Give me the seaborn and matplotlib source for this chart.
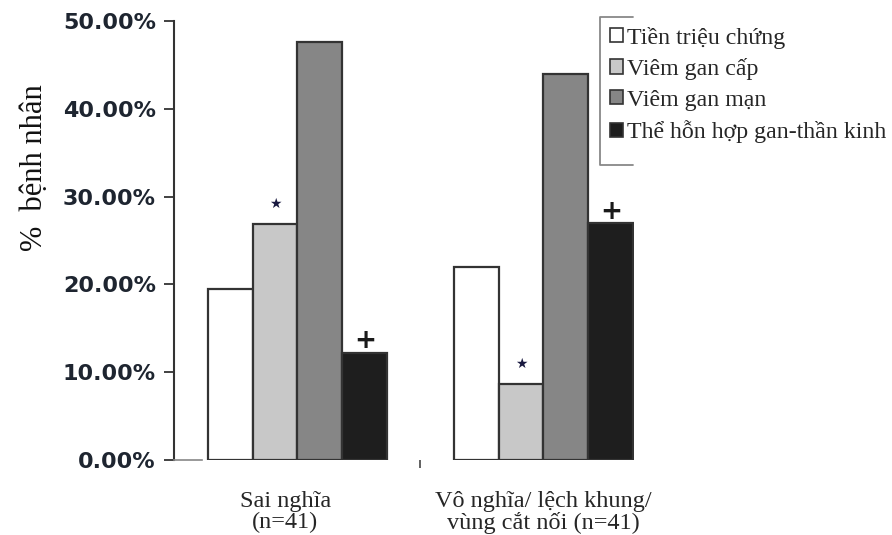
import matplotlib
matplotlib.use('Agg')
import matplotlib.pyplot as plt
import matplotlib.transforms as mtransforms
import pandas as pd
import seaborn as sns
from matplotlib.lines import Line2D
from matplotlib.patches import Patch
from matplotlib.ticker import PercentFormatter

groups = ['Sai nghĩa\n(n=41)', 'Vô nghĩa/ lệch khung/\nvùng cắt nối (n=41)']
types = ['Tiền triệu chứng', 'Viêm gan cấp', 'Viêm gan mạn', 'Thể hỗn hợp gan-thần kinh']
colors = ['#ffffff', '#c8c8c8', '#868686', '#1e1e1e']

# percent of patients, per group, one list per type
tien_trieu_chung = [19.5, 22.0]
viem_gan_cap = [26.9, 8.6]
viem_gan_man = [47.6, 44.0]
the_hon_hop = [12.2, 27.0]

# significance marks drawn above bars
marks = {'Viêm gan cấp': '★', 'Thể hỗn hợp gan-thần kinh': '+'}

values = [tien_trieu_chung, viem_gan_cap, viem_gan_man, the_hon_hop]
rows = []
for t, vals in zip(types, values):
    for g, v in zip(groups, vals):
        rows.append({'group': g, 'type': t, 'value': v})
df = pd.DataFrame(rows)

sns.set_style('white')
serif = ['Liberation Serif', 'DejaVu Serif']

fig = plt.figure(figsize=(8.92, 5.35), dpi=100)
ax = fig.add_axes([174 / 892, 1 - 460 / 535, 460 / 892, 439 / 535])

sns.barplot(data=df, x='group', y='value', hue='type', order=groups, hue_order=types,
            palette=colors, edgecolor='#333333', linewidth=1.6, width=0.73,
            saturation=1, legend=False, ax=ax)

ax.set_xlim(-0.502, 1.368)
ax.set_ylim(0, 50)
ax.set_yticks([0, 10, 20, 30, 40, 50])
ax.yaxis.set_major_formatter(PercentFormatter(decimals=2))

# marks above bars
for t, container in zip(types, ax.containers):
    if t not in marks:
        continue
    for bar in container:
        x = bar.get_x() + bar.get_width() / 2
        h = bar.get_height()
        if marks[t] == '★':
            ax.text(x, h + 2.3, '★', ha='center', va='center', fontsize=10,
                    color='#1a1a40', family='DejaVu Sans')
        else:
            ax.text(x, h + 1.3, '+', ha='center', va='center', fontsize=19,
                    color='#1a1a1a', family='DejaVu Sans', fontweight='bold')

for s in ['top', 'right']:
    ax.spines[s].set_visible(False)
ax.spines['left'].set_color('#333333')
ax.spines['left'].set_linewidth(1.5)
ax.spines['bottom'].set_color('#888888')
ax.spines['bottom'].set_linewidth(1.2)
ax.spines['bottom'].set_bounds(-0.502, -0.39)

ax.tick_params(axis='y', direction='out', length=7, width=1.3, color='#333333',
               pad=6, labelsize=16, labelcolor='#1e2530', left=True)
for lab in ax.get_yticklabels():
    lab.set_family('DejaVu Sans')
    lab.set_fontweight('bold')

ax.tick_params(axis='x', which='major', length=0, pad=22)
ax.set_xticks(range(len(groups)))
ax.set_xticklabels(groups, fontsize=17.5, family=serif, linespacing=1.0)
# first group label sits a little left of its bars
first = ax.get_xticklabels()[0]
first.set_transform(first.get_transform() +
                    mtransforms.ScaledTranslation(-12 / 100, 0, fig.dpi_scale_trans))
ax.set_xticks([0.5], minor=True)
ax.tick_params(axis='x', which='minor', bottom=True, length=6, width=1.3,
               color='#555555', direction='out')

ax.set_xlabel('')
ax.set_ylabel('')
fig.text(35 / 892, 1 - 168 / 535, '%  bệnh nhân', rotation=90, ha='center', va='center',
         fontsize=22, family=serif, color='#111111')

handles = [Patch(facecolor=c, edgecolor='#333333', linewidth=1.2, label=t)
           for t, c in zip(types, colors)]
leg = fig.legend(handles=handles, loc='upper left',
                 bbox_to_anchor=(600 / 892, 1 - 17 / 535), borderaxespad=0,
                 prop={'family': serif, 'size': 17.2}, frameon=False,
                 handlelength=0.55, handleheight=0.55, handletextpad=0.2,
                 labelspacing=0.4, borderpad=0.4)

# the legend frame only shows as a bracket on its left side
bx = [633 / 892, 600 / 892, 600 / 892, 633 / 892]
by = [1 - 17 / 535, 1 - 17 / 535, 1 - 165 / 535, 1 - 165 / 535]
fig.add_artist(Line2D(bx, by, transform=fig.transFigure, color='#888888', linewidth=1.3))

fig.savefig('out.png', dpi=100)
